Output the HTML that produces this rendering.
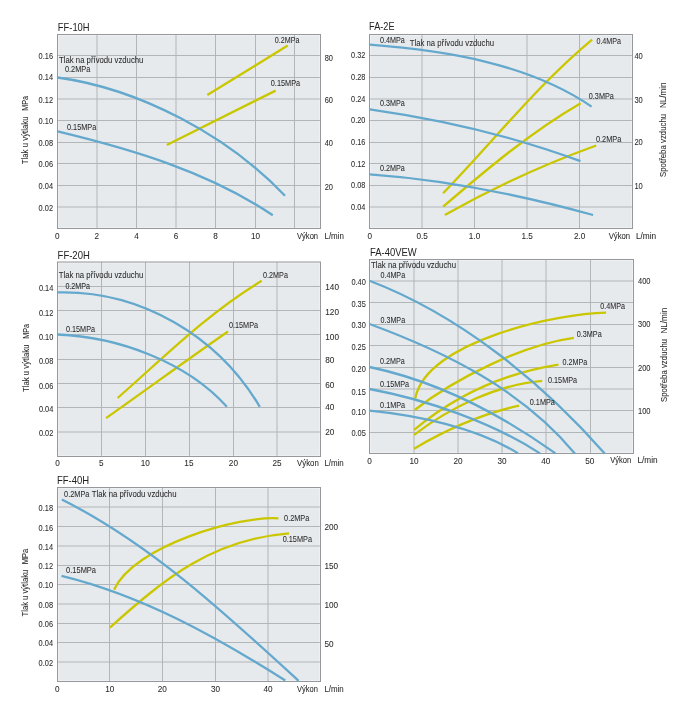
<!DOCTYPE html><html><head><meta charset="utf-8"><style>html,body{margin:0;padding:0;background:#fff;}svg{display:block;}text{font-family:"Liberation Sans", sans-serif;}</style></head><body>
<svg width="688" height="717" viewBox="0 0 688 717" style="will-change:transform">
<rect width="688" height="717" fill="#fff"/>
<rect x="57.5" y="34.5" width="263.0" height="194.0" fill="#e7eaed"/>
<rect x="58.5" y="35.5" width="261.0" height="192.0" fill="none" stroke="#eef1f4" stroke-width="1"/>
<line x1="97.0" y1="34.5" x2="97.0" y2="228.5" stroke="#b3b6b9" stroke-width="1"/>
<line x1="136.5" y1="34.5" x2="136.5" y2="228.5" stroke="#b3b6b9" stroke-width="1"/>
<line x1="176.0" y1="34.5" x2="176.0" y2="228.5" stroke="#b3b6b9" stroke-width="1"/>
<line x1="215.5" y1="34.5" x2="215.5" y2="228.5" stroke="#b3b6b9" stroke-width="1"/>
<line x1="255.5" y1="34.5" x2="255.5" y2="228.5" stroke="#b3b6b9" stroke-width="1"/>
<line x1="294.5" y1="34.5" x2="294.5" y2="228.5" stroke="#b3b6b9" stroke-width="1"/>
<line x1="57.5" y1="55.5" x2="320.5" y2="55.5" stroke="#b3b6b9" stroke-width="1"/>
<line x1="57.5" y1="77.5" x2="320.5" y2="77.5" stroke="#b3b6b9" stroke-width="1"/>
<line x1="57.5" y1="99.0" x2="320.5" y2="99.0" stroke="#b3b6b9" stroke-width="1"/>
<line x1="57.5" y1="120.5" x2="320.5" y2="120.5" stroke="#b3b6b9" stroke-width="1"/>
<line x1="57.5" y1="142.5" x2="320.5" y2="142.5" stroke="#b3b6b9" stroke-width="1"/>
<line x1="57.5" y1="163.5" x2="320.5" y2="163.5" stroke="#b3b6b9" stroke-width="1"/>
<line x1="57.5" y1="185.5" x2="320.5" y2="185.5" stroke="#b3b6b9" stroke-width="1"/>
<line x1="57.5" y1="207.0" x2="320.5" y2="207.0" stroke="#b3b6b9" stroke-width="1"/>
<rect x="57.5" y="34.5" width="263.0" height="194.0" fill="none" stroke="#96989b" stroke-width="1"/>
<path d="M166.80,145.00 L275.60,90.60" fill="none" stroke="#cac600" stroke-width="2.30" stroke-linecap="butt" stroke-linejoin="round"/>
<path d="M207.30,95.10 L287.70,45.60" fill="none" stroke="#cac600" stroke-width="2.30" stroke-linecap="butt" stroke-linejoin="round"/>
<path d="M57.50,77.50 C139.81,88.77 227.94,135.69 285.00,195.70" fill="none" stroke="#64a9cd" stroke-width="2.30" stroke-linecap="butt" stroke-linejoin="round"/>
<path d="M57.60,131.40 C131.90,149.31 208.85,171.96 272.80,215.30" fill="none" stroke="#64a9cd" stroke-width="2.30" stroke-linecap="butt" stroke-linejoin="round"/>
<text x="57.80" y="30.90" font-size="11.00" text-anchor="start" fill="#222" stroke="#222" stroke-width="0.00" textLength="31.80" lengthAdjust="spacingAndGlyphs" >FF-10H</text>
<text x="59.10" y="62.70" font-size="8.20" text-anchor="start" fill="#2a2a2a" stroke="#2a2a2a" stroke-width="0.06" textLength="84.30" lengthAdjust="spacingAndGlyphs" >Tlak na přívodu vzduchu</text>
<text x="64.90" y="72.10" font-size="8.20" text-anchor="start" fill="#2a2a2a" stroke="#2a2a2a" stroke-width="0.06" textLength="25.39" lengthAdjust="spacingAndGlyphs" >0.2MPa</text>
<text x="67.00" y="129.60" font-size="8.20" text-anchor="start" fill="#2a2a2a" stroke="#2a2a2a" stroke-width="0.06" textLength="29.30" lengthAdjust="spacingAndGlyphs" >0.15MPa</text>
<text x="274.80" y="43.30" font-size="8.20" text-anchor="start" fill="#2a2a2a" stroke="#2a2a2a" stroke-width="0.06" textLength="24.60" lengthAdjust="spacingAndGlyphs" >0.2MPa</text>
<text x="270.80" y="86.30" font-size="8.20" text-anchor="start" fill="#2a2a2a" stroke="#2a2a2a" stroke-width="0.06" textLength="29.30" lengthAdjust="spacingAndGlyphs" >0.15MPa</text>
<text transform="translate(27.60,164.30) rotate(-90)" font-size="8.20" text-anchor="start" fill="#2a2a2a" stroke="#2a2a2a" stroke-width="0.06" textLength="47.90" lengthAdjust="spacingAndGlyphs" >Tlak u výtlaku</text>
<text transform="translate(27.60,110.70) rotate(-90)" font-size="8.20" text-anchor="start" fill="#2a2a2a" stroke="#2a2a2a" stroke-width="0.06" textLength="14.69" lengthAdjust="spacingAndGlyphs" >MPa</text>
<text x="297.00" y="238.50" font-size="8.20" text-anchor="start" fill="#2a2a2a" stroke="#2a2a2a" stroke-width="0.06" textLength="21.10" lengthAdjust="spacingAndGlyphs" >Výkon</text>
<text x="324.50" y="238.50" font-size="8.20" text-anchor="start" fill="#2a2a2a" stroke="#2a2a2a" stroke-width="0.06" textLength="19.40" lengthAdjust="spacingAndGlyphs" >L/min</text>
<text x="53.00" y="59.30" font-size="8.20" text-anchor="end" fill="#2a2a2a" stroke="#2a2a2a" stroke-width="0.06" textLength="14.40" lengthAdjust="spacingAndGlyphs" >0.16</text>
<text x="53.00" y="80.40" font-size="8.20" text-anchor="end" fill="#2a2a2a" stroke="#2a2a2a" stroke-width="0.06" textLength="14.40" lengthAdjust="spacingAndGlyphs" >0.14</text>
<text x="53.00" y="103.00" font-size="8.20" text-anchor="end" fill="#2a2a2a" stroke="#2a2a2a" stroke-width="0.06" textLength="14.40" lengthAdjust="spacingAndGlyphs" >0.12</text>
<text x="53.00" y="124.40" font-size="8.20" text-anchor="end" fill="#2a2a2a" stroke="#2a2a2a" stroke-width="0.06" textLength="14.40" lengthAdjust="spacingAndGlyphs" >0.10</text>
<text x="53.00" y="145.60" font-size="8.20" text-anchor="end" fill="#2a2a2a" stroke="#2a2a2a" stroke-width="0.06" textLength="14.40" lengthAdjust="spacingAndGlyphs" >0.08</text>
<text x="53.00" y="167.20" font-size="8.20" text-anchor="end" fill="#2a2a2a" stroke="#2a2a2a" stroke-width="0.06" textLength="14.40" lengthAdjust="spacingAndGlyphs" >0.06</text>
<text x="53.00" y="189.20" font-size="8.20" text-anchor="end" fill="#2a2a2a" stroke="#2a2a2a" stroke-width="0.06" textLength="14.40" lengthAdjust="spacingAndGlyphs" >0.04</text>
<text x="53.00" y="210.90" font-size="8.20" text-anchor="end" fill="#2a2a2a" stroke="#2a2a2a" stroke-width="0.06" textLength="14.40" lengthAdjust="spacingAndGlyphs" >0.02</text>
<text x="324.70" y="60.60" font-size="8.20" text-anchor="start" fill="#2a2a2a" stroke="#2a2a2a" stroke-width="0.06" textLength="8.30" lengthAdjust="spacingAndGlyphs" >80</text>
<text x="324.70" y="103.40" font-size="8.20" text-anchor="start" fill="#2a2a2a" stroke="#2a2a2a" stroke-width="0.06" textLength="8.30" lengthAdjust="spacingAndGlyphs" >60</text>
<text x="324.70" y="145.90" font-size="8.20" text-anchor="start" fill="#2a2a2a" stroke="#2a2a2a" stroke-width="0.06" textLength="8.30" lengthAdjust="spacingAndGlyphs" >40</text>
<text x="324.70" y="190.30" font-size="8.20" text-anchor="start" fill="#2a2a2a" stroke="#2a2a2a" stroke-width="0.06" textLength="8.30" lengthAdjust="spacingAndGlyphs" >20</text>
<text x="57.30" y="238.80" font-size="8.20" text-anchor="middle" fill="#2a2a2a" stroke="#2a2a2a" stroke-width="0.06" >0</text>
<text x="96.80" y="238.80" font-size="8.20" text-anchor="middle" fill="#2a2a2a" stroke="#2a2a2a" stroke-width="0.06" >2</text>
<text x="136.50" y="238.80" font-size="8.20" text-anchor="middle" fill="#2a2a2a" stroke="#2a2a2a" stroke-width="0.06" >4</text>
<text x="176.00" y="238.80" font-size="8.20" text-anchor="middle" fill="#2a2a2a" stroke="#2a2a2a" stroke-width="0.06" >6</text>
<text x="215.50" y="238.80" font-size="8.20" text-anchor="middle" fill="#2a2a2a" stroke="#2a2a2a" stroke-width="0.06" >8</text>
<text x="255.50" y="238.80" font-size="8.20" text-anchor="middle" fill="#2a2a2a" stroke="#2a2a2a" stroke-width="0.06" >10</text>
<rect x="369.5" y="34.5" width="263.0" height="194.0" fill="#e7eaed"/>
<rect x="370.5" y="35.5" width="261.0" height="192.0" fill="none" stroke="#eef1f4" stroke-width="1"/>
<line x1="422.0" y1="34.5" x2="422.0" y2="228.5" stroke="#b3b6b9" stroke-width="1"/>
<line x1="474.5" y1="34.5" x2="474.5" y2="228.5" stroke="#b3b6b9" stroke-width="1"/>
<line x1="527.0" y1="34.5" x2="527.0" y2="228.5" stroke="#b3b6b9" stroke-width="1"/>
<line x1="579.5" y1="34.5" x2="579.5" y2="228.5" stroke="#b3b6b9" stroke-width="1"/>
<line x1="369.5" y1="55.5" x2="632.5" y2="55.5" stroke="#b3b6b9" stroke-width="1"/>
<line x1="369.5" y1="77.5" x2="632.5" y2="77.5" stroke="#b3b6b9" stroke-width="1"/>
<line x1="369.5" y1="99.0" x2="632.5" y2="99.0" stroke="#b3b6b9" stroke-width="1"/>
<line x1="369.5" y1="120.5" x2="632.5" y2="120.5" stroke="#b3b6b9" stroke-width="1"/>
<line x1="369.5" y1="142.5" x2="632.5" y2="142.5" stroke="#b3b6b9" stroke-width="1"/>
<line x1="369.5" y1="163.5" x2="632.5" y2="163.5" stroke="#b3b6b9" stroke-width="1"/>
<line x1="369.5" y1="185.5" x2="632.5" y2="185.5" stroke="#b3b6b9" stroke-width="1"/>
<line x1="369.5" y1="207.0" x2="632.5" y2="207.0" stroke="#b3b6b9" stroke-width="1"/>
<rect x="369.5" y="34.5" width="263.0" height="194.0" fill="none" stroke="#96989b" stroke-width="1"/>
<path d="M443.10,193.20 C492.35,142.54 537.69,84.71 592.10,39.60" fill="none" stroke="#cac600" stroke-width="2.30" stroke-linecap="butt" stroke-linejoin="round"/>
<path d="M443.10,206.70 C486.52,169.52 531.02,131.92 580.70,103.20" fill="none" stroke="#cac600" stroke-width="2.30" stroke-linecap="butt" stroke-linejoin="round"/>
<path d="M444.80,215.10 C492.75,187.75 544.39,164.29 596.20,145.50" fill="none" stroke="#cac600" stroke-width="2.30" stroke-linecap="butt" stroke-linejoin="round"/>
<path d="M369.70,44.70 C444.43,50.48 528.13,63.18 591.60,106.60" fill="none" stroke="#64a9cd" stroke-width="2.30" stroke-linecap="butt" stroke-linejoin="round"/>
<path d="M369.70,109.40 C441.33,119.57 512.62,136.04 580.50,161.20" fill="none" stroke="#64a9cd" stroke-width="2.30" stroke-linecap="butt" stroke-linejoin="round"/>
<path d="M369.70,174.30 C444.82,179.59 520.66,194.95 593.10,215.00" fill="none" stroke="#64a9cd" stroke-width="2.30" stroke-linecap="butt" stroke-linejoin="round"/>
<text x="369.10" y="29.80" font-size="11.00" text-anchor="start" fill="#222" stroke="#222" stroke-width="0.00" textLength="25.40" lengthAdjust="spacingAndGlyphs" >FA-2E</text>
<text x="380.00" y="43.10" font-size="8.20" text-anchor="start" fill="#2a2a2a" stroke="#2a2a2a" stroke-width="0.06" textLength="24.80" lengthAdjust="spacingAndGlyphs" >0.4MPa</text>
<text x="409.80" y="46.10" font-size="8.20" text-anchor="start" fill="#2a2a2a" stroke="#2a2a2a" stroke-width="0.06" textLength="84.30" lengthAdjust="spacingAndGlyphs" >Tlak na přívodu vzduchu</text>
<text x="379.90" y="106.20" font-size="8.20" text-anchor="start" fill="#2a2a2a" stroke="#2a2a2a" stroke-width="0.06" textLength="24.80" lengthAdjust="spacingAndGlyphs" >0.3MPa</text>
<text x="379.90" y="171.20" font-size="8.20" text-anchor="start" fill="#2a2a2a" stroke="#2a2a2a" stroke-width="0.06" textLength="24.80" lengthAdjust="spacingAndGlyphs" >0.2MPa</text>
<text x="596.40" y="44.30" font-size="8.20" text-anchor="start" fill="#2a2a2a" stroke="#2a2a2a" stroke-width="0.06" textLength="24.70" lengthAdjust="spacingAndGlyphs" >0.4MPa</text>
<text x="588.80" y="99.00" font-size="8.20" text-anchor="start" fill="#2a2a2a" stroke="#2a2a2a" stroke-width="0.06" textLength="25.00" lengthAdjust="spacingAndGlyphs" >0.3MPa</text>
<text x="595.90" y="142.30" font-size="8.20" text-anchor="start" fill="#2a2a2a" stroke="#2a2a2a" stroke-width="0.06" textLength="25.49" lengthAdjust="spacingAndGlyphs" >0.2MPa</text>
<text transform="translate(666.30,177.00) rotate(-90)" font-size="8.20" text-anchor="start" fill="#2a2a2a" stroke="#2a2a2a" stroke-width="0.06" textLength="63.20" lengthAdjust="spacingAndGlyphs" >Spotřeba vzduchu</text>
<text transform="translate(666.30,108.10) rotate(-90)" font-size="8.20" text-anchor="start" fill="#2a2a2a" stroke="#2a2a2a" stroke-width="0.06" textLength="25.60" lengthAdjust="spacingAndGlyphs" >NL/min</text>
<text x="608.70" y="238.50" font-size="8.20" text-anchor="start" fill="#2a2a2a" stroke="#2a2a2a" stroke-width="0.06" textLength="21.40" lengthAdjust="spacingAndGlyphs" >Výkon</text>
<text x="635.90" y="238.50" font-size="8.20" text-anchor="start" fill="#2a2a2a" stroke="#2a2a2a" stroke-width="0.06" textLength="20.30" lengthAdjust="spacingAndGlyphs" >L/min</text>
<text x="365.30" y="58.30" font-size="8.20" text-anchor="end" fill="#2a2a2a" stroke="#2a2a2a" stroke-width="0.06" textLength="14.20" lengthAdjust="spacingAndGlyphs" >0.32</text>
<text x="365.30" y="79.90" font-size="8.20" text-anchor="end" fill="#2a2a2a" stroke="#2a2a2a" stroke-width="0.06" textLength="14.20" lengthAdjust="spacingAndGlyphs" >0.28</text>
<text x="365.30" y="101.50" font-size="8.20" text-anchor="end" fill="#2a2a2a" stroke="#2a2a2a" stroke-width="0.06" textLength="14.20" lengthAdjust="spacingAndGlyphs" >0.24</text>
<text x="365.30" y="123.00" font-size="8.20" text-anchor="end" fill="#2a2a2a" stroke="#2a2a2a" stroke-width="0.06" textLength="14.20" lengthAdjust="spacingAndGlyphs" >0.20</text>
<text x="365.30" y="144.60" font-size="8.20" text-anchor="end" fill="#2a2a2a" stroke="#2a2a2a" stroke-width="0.06" textLength="14.20" lengthAdjust="spacingAndGlyphs" >0.16</text>
<text x="365.30" y="166.50" font-size="8.20" text-anchor="end" fill="#2a2a2a" stroke="#2a2a2a" stroke-width="0.06" textLength="14.20" lengthAdjust="spacingAndGlyphs" >0.12</text>
<text x="365.30" y="188.10" font-size="8.20" text-anchor="end" fill="#2a2a2a" stroke="#2a2a2a" stroke-width="0.06" textLength="14.20" lengthAdjust="spacingAndGlyphs" >0.08</text>
<text x="365.30" y="209.80" font-size="8.20" text-anchor="end" fill="#2a2a2a" stroke="#2a2a2a" stroke-width="0.06" textLength="14.20" lengthAdjust="spacingAndGlyphs" >0.04</text>
<text x="634.40" y="59.30" font-size="8.20" text-anchor="start" fill="#2a2a2a" stroke="#2a2a2a" stroke-width="0.06" textLength="8.40" lengthAdjust="spacingAndGlyphs" >40</text>
<text x="634.40" y="102.80" font-size="8.20" text-anchor="start" fill="#2a2a2a" stroke="#2a2a2a" stroke-width="0.06" textLength="8.40" lengthAdjust="spacingAndGlyphs" >30</text>
<text x="634.40" y="145.10" font-size="8.20" text-anchor="start" fill="#2a2a2a" stroke="#2a2a2a" stroke-width="0.06" textLength="8.40" lengthAdjust="spacingAndGlyphs" >20</text>
<text x="634.40" y="189.30" font-size="8.20" text-anchor="start" fill="#2a2a2a" stroke="#2a2a2a" stroke-width="0.06" textLength="8.40" lengthAdjust="spacingAndGlyphs" >10</text>
<text x="369.70" y="238.60" font-size="8.20" text-anchor="middle" fill="#2a2a2a" stroke="#2a2a2a" stroke-width="0.06" >0</text>
<text x="422.20" y="238.60" font-size="8.20" text-anchor="middle" fill="#2a2a2a" stroke="#2a2a2a" stroke-width="0.06" >0.5</text>
<text x="474.50" y="238.60" font-size="8.20" text-anchor="middle" fill="#2a2a2a" stroke="#2a2a2a" stroke-width="0.06" >1.0</text>
<text x="527.20" y="238.60" font-size="8.20" text-anchor="middle" fill="#2a2a2a" stroke="#2a2a2a" stroke-width="0.06" >1.5</text>
<text x="579.60" y="238.60" font-size="8.20" text-anchor="middle" fill="#2a2a2a" stroke="#2a2a2a" stroke-width="0.06" >2.0</text>
<rect x="57.5" y="262.0" width="263.0" height="194.5" fill="#e7eaed"/>
<rect x="58.5" y="263.0" width="261.0" height="192.5" fill="none" stroke="#eef1f4" stroke-width="1"/>
<line x1="101.5" y1="262.0" x2="101.5" y2="456.5" stroke="#b3b6b9" stroke-width="1"/>
<line x1="145.5" y1="262.0" x2="145.5" y2="456.5" stroke="#b3b6b9" stroke-width="1"/>
<line x1="189.5" y1="262.0" x2="189.5" y2="456.5" stroke="#b3b6b9" stroke-width="1"/>
<line x1="233.5" y1="262.0" x2="233.5" y2="456.5" stroke="#b3b6b9" stroke-width="1"/>
<line x1="277.0" y1="262.0" x2="277.0" y2="456.5" stroke="#b3b6b9" stroke-width="1"/>
<line x1="57.5" y1="286.5" x2="320.5" y2="286.5" stroke="#b3b6b9" stroke-width="1"/>
<line x1="57.5" y1="310.5" x2="320.5" y2="310.5" stroke="#b3b6b9" stroke-width="1"/>
<line x1="57.5" y1="334.5" x2="320.5" y2="334.5" stroke="#b3b6b9" stroke-width="1"/>
<line x1="57.5" y1="359.5" x2="320.5" y2="359.5" stroke="#b3b6b9" stroke-width="1"/>
<line x1="57.5" y1="383.5" x2="320.5" y2="383.5" stroke="#b3b6b9" stroke-width="1"/>
<line x1="57.5" y1="407.5" x2="320.5" y2="407.5" stroke="#b3b6b9" stroke-width="1"/>
<line x1="57.5" y1="432.0" x2="320.5" y2="432.0" stroke="#b3b6b9" stroke-width="1"/>
<rect x="57.5" y="262.0" width="263.0" height="194.5" fill="none" stroke="#96989b" stroke-width="1"/>
<path d="M117.60,398.00 C164.83,356.66 207.55,313.38 261.70,280.80" fill="none" stroke="#cac600" stroke-width="2.30" stroke-linecap="butt" stroke-linejoin="round"/>
<path d="M106.10,418.10 C146.95,389.39 186.87,359.83 228.00,331.50" fill="none" stroke="#cac600" stroke-width="2.30" stroke-linecap="butt" stroke-linejoin="round"/>
<path d="M57.70,292.40 C140.33,290.10 218.24,336.07 259.80,406.80" fill="none" stroke="#64a9cd" stroke-width="2.30" stroke-linecap="butt" stroke-linejoin="round"/>
<path d="M57.70,334.50 C116.88,336.79 186.31,361.33 226.90,406.80" fill="none" stroke="#64a9cd" stroke-width="2.30" stroke-linecap="butt" stroke-linejoin="round"/>
<text x="57.60" y="258.80" font-size="11.00" text-anchor="start" fill="#222" stroke="#222" stroke-width="0.00" textLength="32.20" lengthAdjust="spacingAndGlyphs" >FF-20H</text>
<text x="58.70" y="277.90" font-size="8.20" text-anchor="start" fill="#2a2a2a" stroke="#2a2a2a" stroke-width="0.06" textLength="84.70" lengthAdjust="spacingAndGlyphs" >Tlak na přívodu vzduchu</text>
<text x="65.40" y="288.60" font-size="8.20" text-anchor="start" fill="#2a2a2a" stroke="#2a2a2a" stroke-width="0.06" textLength="24.50" lengthAdjust="spacingAndGlyphs" >0.2MPa</text>
<text x="66.00" y="331.80" font-size="8.20" text-anchor="start" fill="#2a2a2a" stroke="#2a2a2a" stroke-width="0.06" textLength="29.00" lengthAdjust="spacingAndGlyphs" >0.15MPa</text>
<text x="263.10" y="277.70" font-size="8.20" text-anchor="start" fill="#2a2a2a" stroke="#2a2a2a" stroke-width="0.06" textLength="24.80" lengthAdjust="spacingAndGlyphs" >0.2MPa</text>
<text x="228.90" y="327.80" font-size="8.20" text-anchor="start" fill="#2a2a2a" stroke="#2a2a2a" stroke-width="0.06" textLength="29.20" lengthAdjust="spacingAndGlyphs" >0.15MPa</text>
<text transform="translate(28.80,392.00) rotate(-90)" font-size="8.20" text-anchor="start" fill="#2a2a2a" stroke="#2a2a2a" stroke-width="0.06" textLength="47.60" lengthAdjust="spacingAndGlyphs" >Tlak u výtlaku</text>
<text transform="translate(28.80,338.80) rotate(-90)" font-size="8.20" text-anchor="start" fill="#2a2a2a" stroke="#2a2a2a" stroke-width="0.06" textLength="14.79" lengthAdjust="spacingAndGlyphs" >MPa</text>
<text x="297.10" y="465.70" font-size="8.20" text-anchor="start" fill="#2a2a2a" stroke="#2a2a2a" stroke-width="0.06" textLength="21.70" lengthAdjust="spacingAndGlyphs" >Výkon</text>
<text x="324.40" y="465.70" font-size="8.20" text-anchor="start" fill="#2a2a2a" stroke="#2a2a2a" stroke-width="0.06" textLength="19.40" lengthAdjust="spacingAndGlyphs" >L/min</text>
<text x="53.30" y="291.00" font-size="8.20" text-anchor="end" fill="#2a2a2a" stroke="#2a2a2a" stroke-width="0.06" textLength="14.40" lengthAdjust="spacingAndGlyphs" >0.14</text>
<text x="53.30" y="316.00" font-size="8.20" text-anchor="end" fill="#2a2a2a" stroke="#2a2a2a" stroke-width="0.06" textLength="14.40" lengthAdjust="spacingAndGlyphs" >0.12</text>
<text x="53.30" y="340.10" font-size="8.20" text-anchor="end" fill="#2a2a2a" stroke="#2a2a2a" stroke-width="0.06" textLength="14.40" lengthAdjust="spacingAndGlyphs" >0.10</text>
<text x="53.30" y="363.60" font-size="8.20" text-anchor="end" fill="#2a2a2a" stroke="#2a2a2a" stroke-width="0.06" textLength="14.40" lengthAdjust="spacingAndGlyphs" >0.08</text>
<text x="53.30" y="388.70" font-size="8.20" text-anchor="end" fill="#2a2a2a" stroke="#2a2a2a" stroke-width="0.06" textLength="14.40" lengthAdjust="spacingAndGlyphs" >0.06</text>
<text x="53.30" y="411.50" font-size="8.20" text-anchor="end" fill="#2a2a2a" stroke="#2a2a2a" stroke-width="0.06" textLength="14.40" lengthAdjust="spacingAndGlyphs" >0.04</text>
<text x="53.30" y="436.10" font-size="8.20" text-anchor="end" fill="#2a2a2a" stroke="#2a2a2a" stroke-width="0.06" textLength="14.40" lengthAdjust="spacingAndGlyphs" >0.02</text>
<text x="325.30" y="290.20" font-size="8.20" text-anchor="start" fill="#2a2a2a" stroke="#2a2a2a" stroke-width="0.06" >140</text>
<text x="325.30" y="315.40" font-size="8.20" text-anchor="start" fill="#2a2a2a" stroke="#2a2a2a" stroke-width="0.06" >120</text>
<text x="325.30" y="339.70" font-size="8.20" text-anchor="start" fill="#2a2a2a" stroke="#2a2a2a" stroke-width="0.06" >100</text>
<text x="325.30" y="363.00" font-size="8.20" text-anchor="start" fill="#2a2a2a" stroke="#2a2a2a" stroke-width="0.06" >80</text>
<text x="325.30" y="387.80" font-size="8.20" text-anchor="start" fill="#2a2a2a" stroke="#2a2a2a" stroke-width="0.06" >60</text>
<text x="325.30" y="410.40" font-size="8.20" text-anchor="start" fill="#2a2a2a" stroke="#2a2a2a" stroke-width="0.06" >40</text>
<text x="325.30" y="435.20" font-size="8.20" text-anchor="start" fill="#2a2a2a" stroke="#2a2a2a" stroke-width="0.06" >20</text>
<text x="57.60" y="466.30" font-size="8.20" text-anchor="middle" fill="#2a2a2a" stroke="#2a2a2a" stroke-width="0.06" >0</text>
<text x="101.30" y="466.30" font-size="8.20" text-anchor="middle" fill="#2a2a2a" stroke="#2a2a2a" stroke-width="0.06" >5</text>
<text x="145.30" y="466.30" font-size="8.20" text-anchor="middle" fill="#2a2a2a" stroke="#2a2a2a" stroke-width="0.06" >10</text>
<text x="188.90" y="466.30" font-size="8.20" text-anchor="middle" fill="#2a2a2a" stroke="#2a2a2a" stroke-width="0.06" >15</text>
<text x="233.40" y="466.30" font-size="8.20" text-anchor="middle" fill="#2a2a2a" stroke="#2a2a2a" stroke-width="0.06" >20</text>
<text x="277.00" y="466.30" font-size="8.20" text-anchor="middle" fill="#2a2a2a" stroke="#2a2a2a" stroke-width="0.06" >25</text>
<rect x="369.5" y="259.5" width="264.0" height="194.0" fill="#e7eaed"/>
<rect x="370.5" y="260.5" width="262.0" height="192.0" fill="none" stroke="#eef1f4" stroke-width="1"/>
<line x1="414.0" y1="259.5" x2="414.0" y2="453.5" stroke="#b3b6b9" stroke-width="1"/>
<line x1="458.0" y1="259.5" x2="458.0" y2="453.5" stroke="#b3b6b9" stroke-width="1"/>
<line x1="502.0" y1="259.5" x2="502.0" y2="453.5" stroke="#b3b6b9" stroke-width="1"/>
<line x1="546.0" y1="259.5" x2="546.0" y2="453.5" stroke="#b3b6b9" stroke-width="1"/>
<line x1="590.5" y1="259.5" x2="590.5" y2="453.5" stroke="#b3b6b9" stroke-width="1"/>
<line x1="369.5" y1="281.0" x2="633.5" y2="281.0" stroke="#b3b6b9" stroke-width="1"/>
<line x1="369.5" y1="302.5" x2="633.5" y2="302.5" stroke="#b3b6b9" stroke-width="1"/>
<line x1="369.5" y1="324.5" x2="633.5" y2="324.5" stroke="#b3b6b9" stroke-width="1"/>
<line x1="369.5" y1="345.5" x2="633.5" y2="345.5" stroke="#b3b6b9" stroke-width="1"/>
<line x1="369.5" y1="367.5" x2="633.5" y2="367.5" stroke="#b3b6b9" stroke-width="1"/>
<line x1="369.5" y1="389.0" x2="633.5" y2="389.0" stroke="#b3b6b9" stroke-width="1"/>
<line x1="369.5" y1="410.5" x2="633.5" y2="410.5" stroke="#b3b6b9" stroke-width="1"/>
<line x1="369.5" y1="432.5" x2="633.5" y2="432.5" stroke="#b3b6b9" stroke-width="1"/>
<rect x="369.5" y="259.5" width="264.0" height="194.0" fill="none" stroke="#96989b" stroke-width="1"/>
<path d="M415.20,398.60 C425.92,340.44 559.33,313.26 606.10,312.70" fill="none" stroke="#cac600" stroke-width="2.30" stroke-linecap="butt" stroke-linejoin="round"/>
<path d="M414.70,410.00 C455.48,378.20 522.77,344.79 573.80,337.90" fill="none" stroke="#cac600" stroke-width="2.30" stroke-linecap="butt" stroke-linejoin="round"/>
<path d="M414.10,429.90 C455.58,395.44 505.21,373.02 558.50,364.60" fill="none" stroke="#cac600" stroke-width="2.30" stroke-linecap="butt" stroke-linejoin="round"/>
<path d="M414.10,434.80 C450.05,407.65 496.77,384.63 542.20,380.90" fill="none" stroke="#cac600" stroke-width="2.30" stroke-linecap="butt" stroke-linejoin="round"/>
<path d="M414.10,448.70 C447.04,429.11 481.61,413.99 519.10,405.60" fill="none" stroke="#cac600" stroke-width="2.30" stroke-linecap="butt" stroke-linejoin="round"/>
<path d="M369.50,280.80 C459.34,315.00 541.42,381.68 604.70,453.40" fill="none" stroke="#64a9cd" stroke-width="2.30" stroke-linecap="butt" stroke-linejoin="round"/>
<path d="M369.50,324.00 C445.44,351.93 522.21,389.86 574.80,453.40" fill="none" stroke="#64a9cd" stroke-width="2.30" stroke-linecap="butt" stroke-linejoin="round"/>
<path d="M369.50,367.00 C435.79,380.91 500.63,414.30 555.50,453.40" fill="none" stroke="#64a9cd" stroke-width="2.30" stroke-linecap="butt" stroke-linejoin="round"/>
<path d="M369.50,389.00 C425.60,399.36 491.80,422.10 540.00,453.40" fill="none" stroke="#64a9cd" stroke-width="2.30" stroke-linecap="butt" stroke-linejoin="round"/>
<path d="M369.50,410.60 C416.92,415.22 477.37,427.68 518.10,453.40" fill="none" stroke="#64a9cd" stroke-width="2.30" stroke-linecap="butt" stroke-linejoin="round"/>
<text x="370.00" y="256.30" font-size="11.00" text-anchor="start" fill="#222" stroke="#222" stroke-width="0.00" textLength="46.70" lengthAdjust="spacingAndGlyphs" >FA-40VEW</text>
<text x="371.00" y="268.00" font-size="8.20" text-anchor="start" fill="#2a2a2a" stroke="#2a2a2a" stroke-width="0.06" textLength="85.00" lengthAdjust="spacingAndGlyphs" >Tlak na přívodu vzduchu</text>
<text x="380.50" y="278.10" font-size="8.20" text-anchor="start" fill="#2a2a2a" stroke="#2a2a2a" stroke-width="0.06" textLength="24.60" lengthAdjust="spacingAndGlyphs" >0.4MPa</text>
<text x="380.50" y="322.60" font-size="8.20" text-anchor="start" fill="#2a2a2a" stroke="#2a2a2a" stroke-width="0.06" textLength="24.60" lengthAdjust="spacingAndGlyphs" >0.3MPa</text>
<text x="380.10" y="364.30" font-size="8.20" text-anchor="start" fill="#2a2a2a" stroke="#2a2a2a" stroke-width="0.06" textLength="24.60" lengthAdjust="spacingAndGlyphs" >0.2MPa</text>
<text x="380.10" y="386.50" font-size="8.20" text-anchor="start" fill="#2a2a2a" stroke="#2a2a2a" stroke-width="0.06" textLength="29.00" lengthAdjust="spacingAndGlyphs" >0.15MPa</text>
<text x="380.10" y="408.40" font-size="8.20" text-anchor="start" fill="#2a2a2a" stroke="#2a2a2a" stroke-width="0.06" textLength="25.00" lengthAdjust="spacingAndGlyphs" >0.1MPa</text>
<text x="600.30" y="308.90" font-size="8.20" text-anchor="start" fill="#2a2a2a" stroke="#2a2a2a" stroke-width="0.06" textLength="24.80" lengthAdjust="spacingAndGlyphs" >0.4MPa</text>
<text x="576.70" y="336.60" font-size="8.20" text-anchor="start" fill="#2a2a2a" stroke="#2a2a2a" stroke-width="0.06" textLength="25.00" lengthAdjust="spacingAndGlyphs" >0.3MPa</text>
<text x="562.50" y="364.60" font-size="8.20" text-anchor="start" fill="#2a2a2a" stroke="#2a2a2a" stroke-width="0.06" textLength="24.80" lengthAdjust="spacingAndGlyphs" >0.2MPa</text>
<text x="548.00" y="382.70" font-size="8.20" text-anchor="start" fill="#2a2a2a" stroke="#2a2a2a" stroke-width="0.06" textLength="29.10" lengthAdjust="spacingAndGlyphs" >0.15MPa</text>
<text x="529.80" y="404.60" font-size="8.20" text-anchor="start" fill="#2a2a2a" stroke="#2a2a2a" stroke-width="0.06" textLength="25.09" lengthAdjust="spacingAndGlyphs" >0.1MPa</text>
<text transform="translate(667.20,402.00) rotate(-90)" font-size="8.20" text-anchor="start" fill="#2a2a2a" stroke="#2a2a2a" stroke-width="0.06" textLength="63.10" lengthAdjust="spacingAndGlyphs" >Spotřeba vzduchu</text>
<text transform="translate(667.20,333.50) rotate(-90)" font-size="8.20" text-anchor="start" fill="#2a2a2a" stroke="#2a2a2a" stroke-width="0.06" textLength="25.70" lengthAdjust="spacingAndGlyphs" >NL/min</text>
<text x="610.30" y="463.10" font-size="8.20" text-anchor="start" fill="#2a2a2a" stroke="#2a2a2a" stroke-width="0.06" textLength="20.90" lengthAdjust="spacingAndGlyphs" >Výkon</text>
<text x="637.50" y="463.10" font-size="8.20" text-anchor="start" fill="#2a2a2a" stroke="#2a2a2a" stroke-width="0.06" textLength="20.10" lengthAdjust="spacingAndGlyphs" >L/min</text>
<text x="365.80" y="285.10" font-size="8.20" text-anchor="end" fill="#2a2a2a" stroke="#2a2a2a" stroke-width="0.06" textLength="14.40" lengthAdjust="spacingAndGlyphs" >0.40</text>
<text x="365.80" y="306.80" font-size="8.20" text-anchor="end" fill="#2a2a2a" stroke="#2a2a2a" stroke-width="0.06" textLength="14.40" lengthAdjust="spacingAndGlyphs" >0.35</text>
<text x="365.80" y="328.30" font-size="8.20" text-anchor="end" fill="#2a2a2a" stroke="#2a2a2a" stroke-width="0.06" textLength="14.40" lengthAdjust="spacingAndGlyphs" >0.30</text>
<text x="365.80" y="349.70" font-size="8.20" text-anchor="end" fill="#2a2a2a" stroke="#2a2a2a" stroke-width="0.06" textLength="14.40" lengthAdjust="spacingAndGlyphs" >0.25</text>
<text x="365.80" y="372.30" font-size="8.20" text-anchor="end" fill="#2a2a2a" stroke="#2a2a2a" stroke-width="0.06" textLength="14.40" lengthAdjust="spacingAndGlyphs" >0.20</text>
<text x="365.80" y="394.80" font-size="8.20" text-anchor="end" fill="#2a2a2a" stroke="#2a2a2a" stroke-width="0.06" textLength="14.40" lengthAdjust="spacingAndGlyphs" >0.15</text>
<text x="365.80" y="414.60" font-size="8.20" text-anchor="end" fill="#2a2a2a" stroke="#2a2a2a" stroke-width="0.06" textLength="14.40" lengthAdjust="spacingAndGlyphs" >0.10</text>
<text x="365.80" y="436.10" font-size="8.20" text-anchor="end" fill="#2a2a2a" stroke="#2a2a2a" stroke-width="0.06" textLength="14.40" lengthAdjust="spacingAndGlyphs" >0.05</text>
<text x="638.00" y="284.20" font-size="8.20" text-anchor="start" fill="#2a2a2a" stroke="#2a2a2a" stroke-width="0.06" textLength="12.50" lengthAdjust="spacingAndGlyphs" >400</text>
<text x="638.00" y="327.30" font-size="8.20" text-anchor="start" fill="#2a2a2a" stroke="#2a2a2a" stroke-width="0.06" textLength="12.50" lengthAdjust="spacingAndGlyphs" >300</text>
<text x="638.00" y="370.60" font-size="8.20" text-anchor="start" fill="#2a2a2a" stroke="#2a2a2a" stroke-width="0.06" textLength="12.50" lengthAdjust="spacingAndGlyphs" >200</text>
<text x="638.00" y="414.10" font-size="8.20" text-anchor="start" fill="#2a2a2a" stroke="#2a2a2a" stroke-width="0.06" textLength="12.50" lengthAdjust="spacingAndGlyphs" >100</text>
<text x="369.50" y="464.30" font-size="8.20" text-anchor="middle" fill="#2a2a2a" stroke="#2a2a2a" stroke-width="0.06" >0</text>
<text x="414.10" y="464.30" font-size="8.20" text-anchor="middle" fill="#2a2a2a" stroke="#2a2a2a" stroke-width="0.06" >10</text>
<text x="458.00" y="464.30" font-size="8.20" text-anchor="middle" fill="#2a2a2a" stroke="#2a2a2a" stroke-width="0.06" >20</text>
<text x="502.00" y="464.30" font-size="8.20" text-anchor="middle" fill="#2a2a2a" stroke="#2a2a2a" stroke-width="0.06" >30</text>
<text x="545.80" y="464.30" font-size="8.20" text-anchor="middle" fill="#2a2a2a" stroke="#2a2a2a" stroke-width="0.06" >40</text>
<text x="589.80" y="464.30" font-size="8.20" text-anchor="middle" fill="#2a2a2a" stroke="#2a2a2a" stroke-width="0.06" >50</text>
<rect x="57.5" y="487.5" width="263.0" height="194.0" fill="#e7eaed"/>
<rect x="58.5" y="488.5" width="261.0" height="192.0" fill="none" stroke="#eef1f4" stroke-width="1"/>
<line x1="109.5" y1="487.5" x2="109.5" y2="681.5" stroke="#b3b6b9" stroke-width="1"/>
<line x1="162.5" y1="487.5" x2="162.5" y2="681.5" stroke="#b3b6b9" stroke-width="1"/>
<line x1="215.5" y1="487.5" x2="215.5" y2="681.5" stroke="#b3b6b9" stroke-width="1"/>
<line x1="268.0" y1="487.5" x2="268.0" y2="681.5" stroke="#b3b6b9" stroke-width="1"/>
<line x1="57.5" y1="507.0" x2="320.5" y2="507.0" stroke="#b3b6b9" stroke-width="1"/>
<line x1="57.5" y1="526.5" x2="320.5" y2="526.5" stroke="#b3b6b9" stroke-width="1"/>
<line x1="57.5" y1="546.0" x2="320.5" y2="546.0" stroke="#b3b6b9" stroke-width="1"/>
<line x1="57.5" y1="565.5" x2="320.5" y2="565.5" stroke="#b3b6b9" stroke-width="1"/>
<line x1="57.5" y1="584.5" x2="320.5" y2="584.5" stroke="#b3b6b9" stroke-width="1"/>
<line x1="57.5" y1="604.0" x2="320.5" y2="604.0" stroke="#b3b6b9" stroke-width="1"/>
<line x1="57.5" y1="623.5" x2="320.5" y2="623.5" stroke="#b3b6b9" stroke-width="1"/>
<line x1="57.5" y1="642.5" x2="320.5" y2="642.5" stroke="#b3b6b9" stroke-width="1"/>
<line x1="57.5" y1="662.0" x2="320.5" y2="662.0" stroke="#b3b6b9" stroke-width="1"/>
<rect x="57.5" y="487.5" width="263.0" height="194.0" fill="none" stroke="#96989b" stroke-width="1"/>
<path d="M114.00,589.80 C133.83,545.76 238.04,515.80 278.50,518.30" fill="none" stroke="#cac600" stroke-width="2.30" stroke-linecap="butt" stroke-linejoin="round"/>
<path d="M109.90,627.60 C164.64,578.51 212.57,539.42 289.00,533.40" fill="none" stroke="#cac600" stroke-width="2.30" stroke-linecap="butt" stroke-linejoin="round"/>
<path d="M61.80,499.50 C150.74,543.90 226.01,614.27 298.60,680.80" fill="none" stroke="#64a9cd" stroke-width="2.30" stroke-linecap="butt" stroke-linejoin="round"/>
<path d="M61.50,575.90 C142.73,595.77 215.08,636.21 285.30,680.50" fill="none" stroke="#64a9cd" stroke-width="2.30" stroke-linecap="butt" stroke-linejoin="round"/>
<text x="56.90" y="483.80" font-size="11.00" text-anchor="start" fill="#222" stroke="#222" stroke-width="0.00" textLength="32.30" lengthAdjust="spacingAndGlyphs" >FF-40H</text>
<text x="64.10" y="496.70" font-size="8.20" text-anchor="start" fill="#2a2a2a" stroke="#2a2a2a" stroke-width="0.06" textLength="25.29" lengthAdjust="spacingAndGlyphs" >0.2MPa</text>
<text x="91.80" y="496.70" font-size="8.20" text-anchor="start" fill="#2a2a2a" stroke="#2a2a2a" stroke-width="0.06" textLength="84.70" lengthAdjust="spacingAndGlyphs" >Tlak na přívodu vzduchu</text>
<text x="66.10" y="572.50" font-size="8.20" text-anchor="start" fill="#2a2a2a" stroke="#2a2a2a" stroke-width="0.06" textLength="29.90" lengthAdjust="spacingAndGlyphs" >0.15MPa</text>
<text x="284.10" y="521.10" font-size="8.20" text-anchor="start" fill="#2a2a2a" stroke="#2a2a2a" stroke-width="0.06" textLength="25.19" lengthAdjust="spacingAndGlyphs" >0.2MPa</text>
<text x="282.70" y="542.00" font-size="8.20" text-anchor="start" fill="#2a2a2a" stroke="#2a2a2a" stroke-width="0.06" textLength="29.30" lengthAdjust="spacingAndGlyphs" >0.15MPa</text>
<text transform="translate(27.90,616.50) rotate(-90)" font-size="8.20" text-anchor="start" fill="#2a2a2a" stroke="#2a2a2a" stroke-width="0.06" textLength="46.80" lengthAdjust="spacingAndGlyphs" >Tlak u výtlaku</text>
<text transform="translate(27.90,564.20) rotate(-90)" font-size="8.20" text-anchor="start" fill="#2a2a2a" stroke="#2a2a2a" stroke-width="0.06" textLength="15.39" lengthAdjust="spacingAndGlyphs" >MPa</text>
<text x="297.10" y="691.50" font-size="8.20" text-anchor="start" fill="#2a2a2a" stroke="#2a2a2a" stroke-width="0.06" textLength="20.80" lengthAdjust="spacingAndGlyphs" >Výkon</text>
<text x="324.40" y="691.50" font-size="8.20" text-anchor="start" fill="#2a2a2a" stroke="#2a2a2a" stroke-width="0.06" textLength="19.40" lengthAdjust="spacingAndGlyphs" >L/min</text>
<text x="53.00" y="510.90" font-size="8.20" text-anchor="end" fill="#2a2a2a" stroke="#2a2a2a" stroke-width="0.06" textLength="14.40" lengthAdjust="spacingAndGlyphs" >0.18</text>
<text x="53.00" y="530.50" font-size="8.20" text-anchor="end" fill="#2a2a2a" stroke="#2a2a2a" stroke-width="0.06" textLength="14.40" lengthAdjust="spacingAndGlyphs" >0.16</text>
<text x="53.00" y="549.80" font-size="8.20" text-anchor="end" fill="#2a2a2a" stroke="#2a2a2a" stroke-width="0.06" textLength="14.40" lengthAdjust="spacingAndGlyphs" >0.14</text>
<text x="53.00" y="569.20" font-size="8.20" text-anchor="end" fill="#2a2a2a" stroke="#2a2a2a" stroke-width="0.06" textLength="14.40" lengthAdjust="spacingAndGlyphs" >0.12</text>
<text x="53.00" y="588.30" font-size="8.20" text-anchor="end" fill="#2a2a2a" stroke="#2a2a2a" stroke-width="0.06" textLength="14.40" lengthAdjust="spacingAndGlyphs" >0.10</text>
<text x="53.00" y="607.80" font-size="8.20" text-anchor="end" fill="#2a2a2a" stroke="#2a2a2a" stroke-width="0.06" textLength="14.40" lengthAdjust="spacingAndGlyphs" >0.08</text>
<text x="53.00" y="627.30" font-size="8.20" text-anchor="end" fill="#2a2a2a" stroke="#2a2a2a" stroke-width="0.06" textLength="14.40" lengthAdjust="spacingAndGlyphs" >0.06</text>
<text x="53.00" y="646.40" font-size="8.20" text-anchor="end" fill="#2a2a2a" stroke="#2a2a2a" stroke-width="0.06" textLength="14.40" lengthAdjust="spacingAndGlyphs" >0.04</text>
<text x="53.00" y="665.80" font-size="8.20" text-anchor="end" fill="#2a2a2a" stroke="#2a2a2a" stroke-width="0.06" textLength="14.40" lengthAdjust="spacingAndGlyphs" >0.02</text>
<text x="324.50" y="530.40" font-size="8.20" text-anchor="start" fill="#2a2a2a" stroke="#2a2a2a" stroke-width="0.06" >200</text>
<text x="324.50" y="569.10" font-size="8.20" text-anchor="start" fill="#2a2a2a" stroke="#2a2a2a" stroke-width="0.06" >150</text>
<text x="324.50" y="607.60" font-size="8.20" text-anchor="start" fill="#2a2a2a" stroke="#2a2a2a" stroke-width="0.06" >100</text>
<text x="324.50" y="647.10" font-size="8.20" text-anchor="start" fill="#2a2a2a" stroke="#2a2a2a" stroke-width="0.06" >50</text>
<text x="57.20" y="692.30" font-size="8.20" text-anchor="middle" fill="#2a2a2a" stroke="#2a2a2a" stroke-width="0.06" >0</text>
<text x="109.80" y="692.30" font-size="8.20" text-anchor="middle" fill="#2a2a2a" stroke="#2a2a2a" stroke-width="0.06" >10</text>
<text x="162.30" y="692.30" font-size="8.20" text-anchor="middle" fill="#2a2a2a" stroke="#2a2a2a" stroke-width="0.06" >20</text>
<text x="215.60" y="692.30" font-size="8.20" text-anchor="middle" fill="#2a2a2a" stroke="#2a2a2a" stroke-width="0.06" >30</text>
<text x="268.10" y="692.30" font-size="8.20" text-anchor="middle" fill="#2a2a2a" stroke="#2a2a2a" stroke-width="0.06" >40</text>
</svg></body></html>
